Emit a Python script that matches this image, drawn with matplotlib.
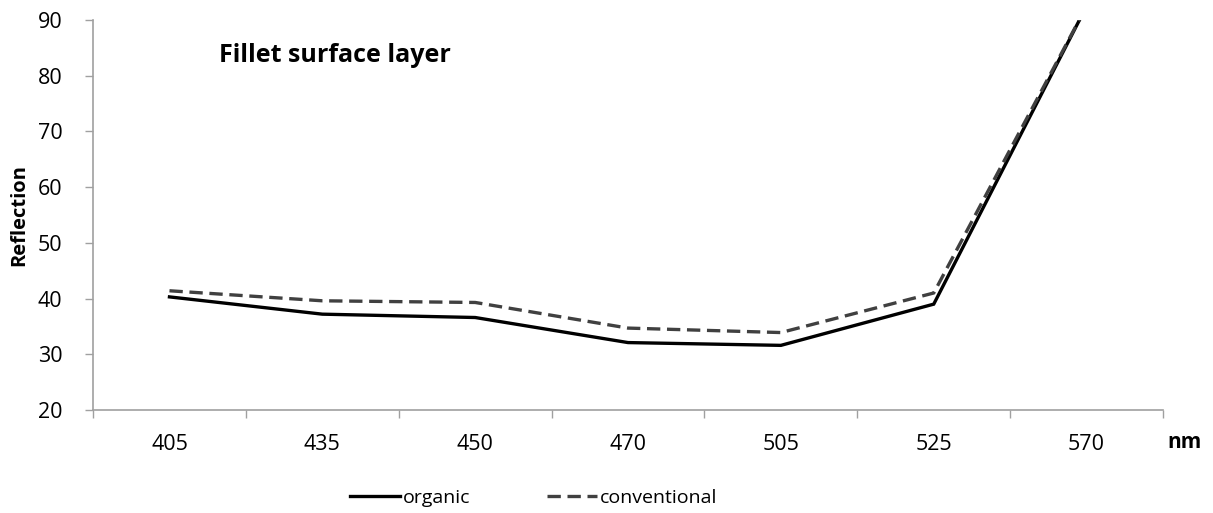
import matplotlib.pyplot as plt
import numpy as np

plt.rcParams['font.family'] = ['Open Sans', 'DejaVu Sans']

# wavelengths (categories) and reflection values
wavelengths = ['405', '435', '450', '470', '505', '525', '570']
organic = [40.3, 37.2, 36.6, 32.1, 31.6, 39.0, 92.5]
conventional = [41.4, 39.6, 39.3, 34.7, 33.9, 41.0, 92.5]

x = np.arange(len(wavelengths))

fig = plt.figure(figsize=(12.13, 5.13), dpi=100)
ax = fig.add_axes([0.0767, 0.2008, 0.8821, 0.7602])

ax.plot(x, organic, color='black', lw=2.4, label='organic', solid_joinstyle='miter')
ax.plot(x, conventional, color='#404040', lw=2.4, ls=(0, (4, 2)), label='conventional')

ax.set_xlim(-0.5, len(wavelengths) - 0.5)
ax.set_ylim(20, 90)
ax.set_yticks(np.arange(20, 91, 10))

# category labels centred, tick marks between categories
ax.set_xticks(x)
ax.set_xticklabels(wavelengths, fontsize=15.5)
ax.set_xticks(np.arange(-0.5, len(wavelengths), 1), minor=True)
ax.tick_params(axis='x', which='major', length=0, pad=17)
ax.tick_params(axis='x', which='minor', length=6, color='#a0a0a0', width=1)
ax.tick_params(axis='y', length=6, color='#a0a0a0', width=1, labelsize=15.5, pad=16)

for s in ['top', 'right']:
    ax.spines[s].set_visible(False)
for s in ['left', 'bottom']:
    ax.spines[s].set_color('#a0a0a0')
    ax.spines[s].set_linewidth(1.2)

ax.set_ylabel('Reflection', fontsize=14.5, fontweight='bold', labelpad=6)
fig.text(0.962, 0.138, 'nm', fontsize=15, fontweight='bold', ha='left', va='center')
ax.text(0.118, 0.91, 'Fillet surface layer', transform=ax.transAxes,
        fontsize=18, fontweight='bold', ha='left', va='center')

fig.legend(loc='center', bbox_to_anchor=(0.44, 0.03), ncol=2, frameon=False,
           fontsize=14, handlelength=2.6, handletextpad=0.15, columnspacing=3.9)

fig.savefig('out.png', dpi=100)
